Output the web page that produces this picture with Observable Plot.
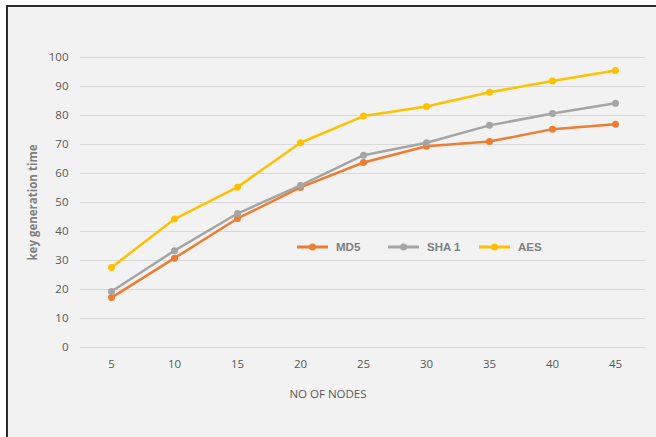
<!DOCTYPE html>
<html>
<head>
<meta charset="utf-8">
<script src="https://cdn.jsdelivr.net/npm/d3@7"></script>
<script src="https://cdn.jsdelivr.net/npm/@observablehq/plot@0.6"></script>
<style>
  html, body { margin: 0; padding: 0; background: #ffffff; }
  #wrap { position: relative; width: 656px; height: 437px; overflow: hidden; }
  #frame { position: absolute; left: 6px; top: 5px; width: 660px; height: 440px;
           border-top: 2px solid #2b2b2b; border-left: 2px solid #2b2b2b; background: #f2f2f2; }
  #chart { position: absolute; left: 0; top: 0; }
  #legend { position: absolute; left: 297px; top: 241px; display: flex; gap: 0; font-family: "Liberation Sans", Arial, sans-serif;
            font-size: 11.5px; font-weight: bold; color: #7f7f7f; }
  #legend .item { display: flex; align-items: center; width: 91px; }
  #legend svg { margin-right: 8px; }
</style>
</head>
<body>
<div id="wrap">
  <div id="frame"></div>
  <div id="chart"></div>
  <div id="legend"></div>
</div>
<script>
const nodes = [5, 10, 15, 20, 25, 30, 35, 40, 45];
const md5  = [17.2, 30.8, 44.5, 55.2, 63.8, 69.4, 71.0, 75.3, 77.0];
const sha1 = [19.3, 33.4, 46.2, 55.9, 66.3, 70.6, 76.6, 80.7, 84.2];
const aes  = [27.6, 44.3, 55.3, 70.6, 79.8, 83.1, 88.0, 91.9, 95.5];
const seriesNames = ["MD5", "SHA 1", "AES"];
const seriesColors = ["#ED7D31", "#A5A5A5", "#FFC000"];
const yTicks = [0, 10, 20, 30, 40, 50, 60, 70, 80, 90, 100];

const rows = [];
[md5, sha1, aes].forEach((vals, i) => {
  vals.forEach((v, j) => rows.push({series: seriesNames[i], nodes: String(nodes[j]), value: v}));
});

const chart = Plot.plot({
  width: 656,
  height: 437,
  marginLeft: 80,
  marginRight: 11,
  marginTop: 57,
  marginBottom: 90,
  style: {background: "transparent", fontFamily: "'Open Sans', sans-serif", fontSize: "11px", color: "#595959"},
  x: {type: "point", domain: nodes.map(String), range: [110, 615], padding: 0, label: null},
  y: {domain: [0, 100], label: null},
  color: {domain: seriesNames, range: seriesColors},
  marks: [
    Plot.ruleY(yTicks, {stroke: "#d9d9d9", strokeWidth: 1}),
    Plot.axisY({ticks: yTicks, tickSize: 0, tickPadding: 12, label: null, fontSize: 11.5}),
    Plot.axisX({tickSize: 0, tickPadding: 12, label: null, fontSize: 11.5}),
    Plot.line(rows, {x: "nodes", y: "value", z: "series", stroke: "series", strokeWidth: 2.5}),
    Plot.dot(rows, {x: "nodes", y: "value", fill: "series", r: 3.5}),
    Plot.text(["key generation time"], {frameAnchor: "left", textAnchor: "middle", dx: -47, rotate: -90, fontSize: 11.5, fontWeight: "bold", fill: "#7f7f7f"}),
    Plot.text(["NO OF NODES"], {frameAnchor: "bottom", dx: -35, dy: 50, fontSize: 11.5, fill: "#595959"})
  ]
});
document.getElementById("chart").appendChild(chart);

const legend = document.getElementById("legend");
seriesNames.forEach((name, i) => {
  const item = document.createElement("div");
  item.className = "item";
  item.innerHTML = `<svg width="31" height="10"><line x1="0" y1="5" x2="31" y2="5" stroke="${seriesColors[i]}" stroke-width="3"/><circle cx="15.5" cy="5" r="3.5" fill="${seriesColors[i]}"/></svg><span>${name}</span>`;
  legend.appendChild(item);
});
</script>
</body>
</html>
